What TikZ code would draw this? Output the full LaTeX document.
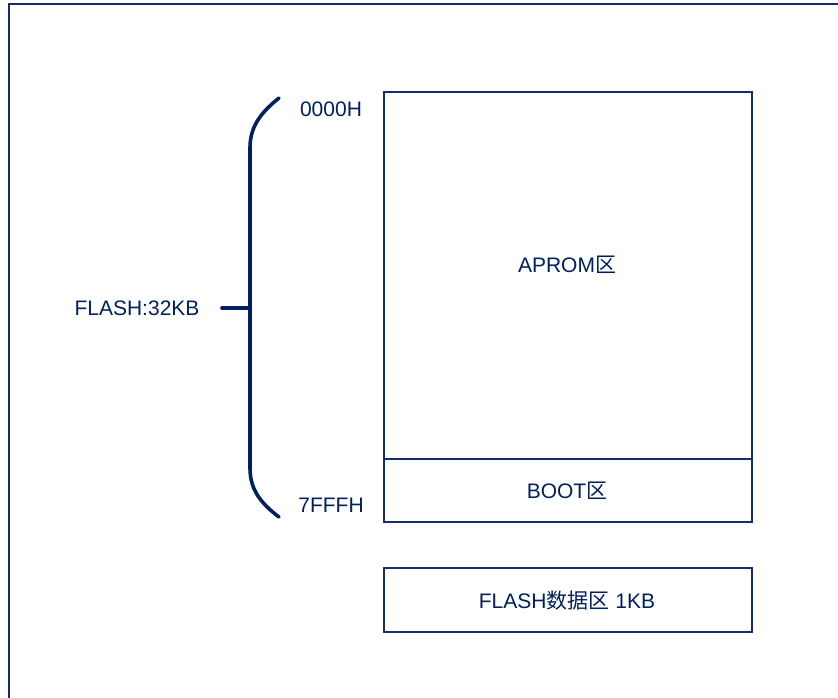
\documentclass[tikz,border=0pt]{standalone}
\usepackage{fontspec}
\setmainfont{Liberation Sans}
\newfontfamily\cjk{Noto Sans CJK SC}
\definecolor{navy}{RGB}{0,32,96}
\definecolor{boxline}{RGB}{20,45,110}
\begin{document}
\begin{tikzpicture}[x=1pt,y=-1pt,
  region/.style={draw=boxline,line width=1.6pt,minimum width=368pt,inner sep=0pt,anchor=north west},
  lbl/.style={text=navy,font=\fontsize{21}{25}\selectfont,inner sep=0pt},
  bracestyle/.style={draw=navy,line width=3.6pt,line cap=round}]
\useasboundingbox (0,0) rectangle (838,697);
\clip (0,0) rectangle (838,697);
\fill[white] (0,0) rectangle (838,697);
% outer frame
\draw[draw=boxline,line width=2pt] (9,4) rectangle (860,720);
% memory boxes
\node[region,minimum height=367pt] (aprom) at (383,91) {};
\node[region,minimum height=63pt] (boot) at (383,458) {};
\node[region,minimum height=64pt] (data) at (383,567) {};
\node[lbl] (aproml) at (567,265) {APROM{\cjk 区}};
\node[lbl] (bootl) at (567,491) {BOOT{\cjk 区}};
\node[lbl] (datal) at (567,601) {FLASH{\cjk 数据区} 1KB};
% addresses
\node[lbl] (a0) at (331,109) {0000H};
\node[lbl] (a1) at (331,505) {7FFFH};
\node[lbl] (total) at (137,308) {FLASH:32KB};
% brace
\coordinate (btop) at (279,98);
\coordinate (bbot) at (279,517);
\coordinate (bmid) at (250,308);
\coordinate (btick) at (222,308);
\draw[bracestyle] (btop) .. controls (259,114) and (250,128) .. (250,148) -- (250,468) .. controls (250,488) and (259,502) .. (bbot);
\draw[bracestyle] (btick) -- (bmid);
\end{tikzpicture}
\end{document}
